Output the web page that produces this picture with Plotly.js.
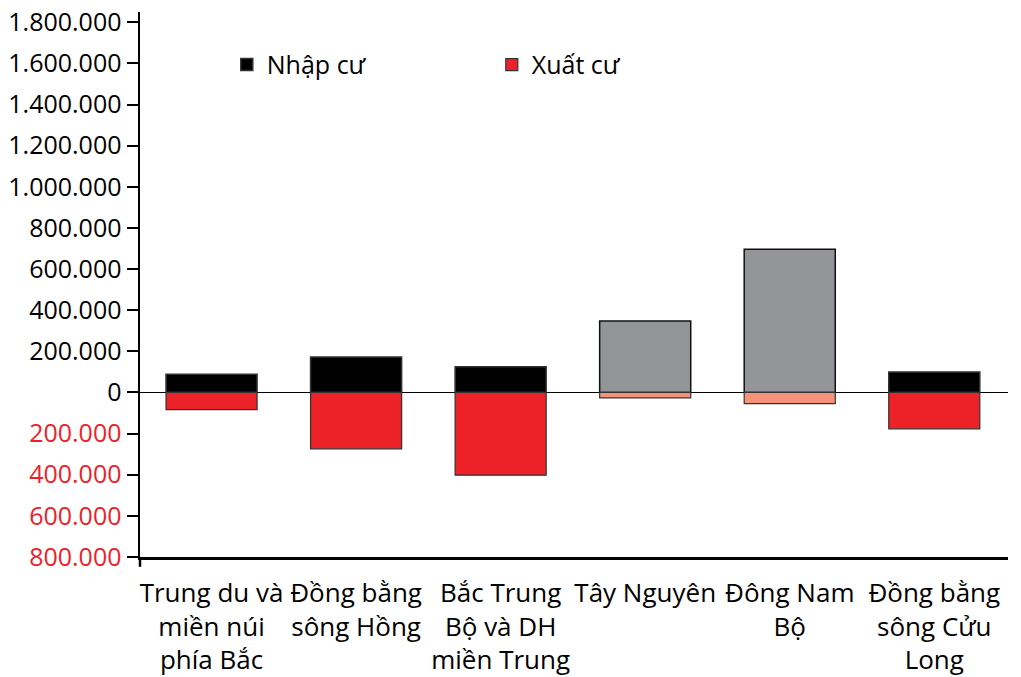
<!DOCTYPE html>
<html>
<head>
<meta charset="utf-8">
<script src="https://cdn.plot.ly/plotly-3.0.1.min.js"></script>
<style>html,body{margin:0;padding:0;background:#fff;}#chart{width:1021px;height:677px;}</style>
</head>
<body>
<div id="chart"></div>
<script>
const categories = [
  "Trung du và<br>miền núi<br>phía Bắc",
  "Đồng bằng<br>sông Hồng",
  "Bắc Trung<br>Bộ và DH<br>miền Trung",
  "Tây Nguyên",
  "Đông Nam<br>Bộ",
  "Đồng bằng<br>sông Cửu<br>Long"
];
const nhapCu = [88000, 172000, 125000, 348000, 697000, 100000];
const xuatCu = [-83000, -274000, -402000, -26000, -54000, -177000];
const nhapColors = ["#000000", "#000000", "#000000", "#939598", "#939598", "#000000"];
const xuatColors = ["#ED2128", "#ED2128", "#ED2128", "#F4937A", "#F4937A", "#ED2128"];
const nhapLine = ["#333333", "#333333", "#333333", "#111111", "#111111", "#333333"];
const tickVals = [-800000, -600000, -400000, -200000, 0, 200000, 400000, 600000, 800000, 1000000, 1200000, 1400000, 1600000, 1800000];
const tickText = ["800.000", "600.000", "400.000", "200.000", "0", "200.000", "400.000", "600.000", "800.000", "1.000.000", "1.200.000", "1.400.000", "1.600.000", "1.800.000"];

const RED = "#ED2128";
const ticktextStyled = tickVals.map((v, i) => v < 0 ? `<span style="color:${RED}">${tickText[i]}</span>` : tickText[i]);
const xIdx = categories.map((c, i) => i);

const traces = [
  {
    type: "bar", name: "Nhập cư", x: xIdx, y: nhapCu, width: 0.63,
    marker: {color: nhapColors, line: {color: nhapLine, width: 1.5}},
    hoverinfo: "skip"
  },
  {
    type: "bar", name: "Xuất cư", x: xIdx, y: xuatCu, width: 0.63,
    marker: {color: xuatColors, line: {color: "#333333", width: 1.2}},
    hoverinfo: "skip"
  }
];

const layout = {
  width: 1021, height: 677,
  margin: {l: 140, r: 13, t: 12, b: 120},
  paper_bgcolor: "#ffffff", plot_bgcolor: "#ffffff",
  barmode: "relative",
  font: {family: "Open Sans, Noto Sans, sans-serif", color: "#000000", size: 24},
  showlegend: true,
  legend: {
    orientation: "h", x: 0.1, y: 0.903, xanchor: "left", yanchor: "middle",
    entrywidth: 220, entrywidthmode: "pixels",
    font: {size: 25, color: "#000"}, bgcolor: "rgba(0,0,0,0)", traceorder: "normal"
  },
  xaxis: {
    range: [-0.495, 5.51],
    tickmode: "array", tickvals: xIdx, ticktext: categories,
    showline: true, linecolor: "#000", linewidth: 2.5,
    ticks: "", showgrid: false, zeroline: false,
    ticklabelstandoff: 11,
    tickfont: {size: 26}, fixedrange: true
  },
  yaxis: {
    range: [-800000, 1850000],
    tickmode: "array", tickvals: tickVals, ticktext: ticktextStyled,
    showline: true, linecolor: "#000", linewidth: 2.5,
    ticks: "outside", ticklen: 11, tickwidth: 2, tickcolor: "#000",
    showgrid: false, zeroline: true, zerolinecolor: "#000", zerolinewidth: 1.5,
    tickfont: {size: 25}, fixedrange: true
  },
  shapes: [
    {type: "line", xref: "paper", yref: "paper", x0: 0, x1: 0, y0: 0, y1: -0.018,
     line: {color: "#000", width: 2.5}}
  ]
};

Plotly.newPlot("chart", traces, layout, {displayModeBar: false, staticPlot: true});
</script>
</body>
</html>
